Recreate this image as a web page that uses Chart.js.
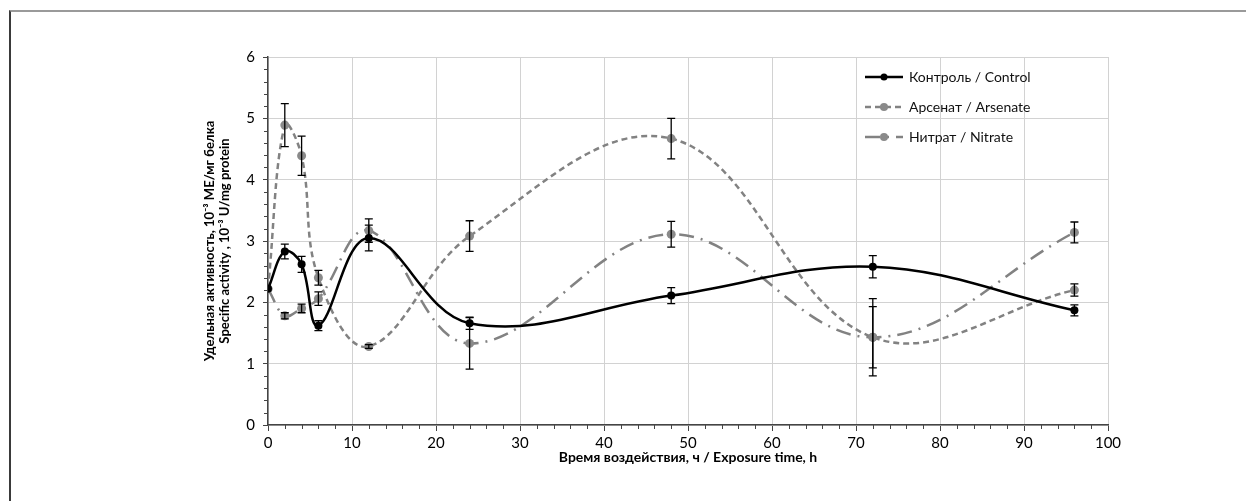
<!DOCTYPE html>
<html>
<head>
<meta charset="utf-8">
<script src="https://cdn.jsdelivr.net/npm/chart.js@4.4.1/dist/chart.umd.min.js"></script>
<style>
html, body { margin: 0; padding: 0; background: #fff; }
#wrap { position: relative; width: 1246px; height: 501px; overflow: hidden; }
#frame { position: absolute; left: 9px; top: 10px; right: -4px; bottom: -4px;
  border-top: 2px solid #9a9a9a; border-left: 2px solid #3a3a3a; }
canvas { position: absolute; left: 0; top: 0; }
</style>
</head>
<body>
<div id="wrap"><div id="frame"></div><canvas id="chart" width="1246" height="501"></canvas></div>
<script>
// hours of exposure
const hours = [0, 2, 4, 6, 12, 24, 48, 72, 96];

// specific activity, 10^-3 U/mg protein
const control     = [2.22, 2.83, 2.62, 1.62, 3.05, 1.66, 2.11, 2.58, 1.87];
const controlErr  = [0, 0.12, 0.13, 0.08, 0.21, 0.10, 0.13, 0.18, 0.09];
const arsenate    = [2.22, 4.89, 4.39, 2.40, 1.28, 3.08, 4.67, 1.43, 2.20];
const arsenateErr = [0, 0.35, 0.32, 0.12, 0.03, 0.25, 0.33, 0.63, 0.10];
const nitrate     = [2.22, 1.78, 1.90, 2.06, 3.17, 1.33, 3.11, 1.43, 3.14];
const nitrateErr  = [0, 0.05, 0.07, 0.11, 0.19, 0.42, 0.21, 0.50, 0.17];

const seriesLabels = ['Контроль / Control', 'Арсенат / Arsenate', 'Нитрат / Nitrate'];
const xTitle = 'Время воздействия, ч / Exposure time, h';
const yTitle = ['Удельная активность, 10⁻³ МЕ/мг белка', 'Specific activity , 10⁻³ U/mg protein'];

const FONT = "Lato, 'Liberation Sans', Arial, sans-serif";
const GRAY = '#828282';

const toPoints = (vals) => vals.map((v, i) => ({x: hours[i], y: v}));

const errorBars = {
    id: 'errorBars',
    afterDatasetsDraw(chart) {
        const {ctx, scales: {x, y}} = chart;
        ctx.save();
        ctx.strokeStyle = '#000';
        ctx.lineWidth = 1.3;
        ctx.setLineDash([]);
        chart.data.datasets.forEach(ds => {
            ds.errors.forEach((e, i) => {
                if (!e) return;
                const px = x.getPixelForValue(ds.data[i].x);
                const top = y.getPixelForValue(ds.data[i].y + e);
                const bot = y.getPixelForValue(ds.data[i].y - e);
                ctx.beginPath();
                ctx.moveTo(px, top); ctx.lineTo(px, bot);
                ctx.moveTo(px - 4, top); ctx.lineTo(px + 4, top);
                ctx.moveTo(px - 4, bot); ctx.lineTo(px + 4, bot);
                ctx.stroke();
            });
        });
        ctx.restore();
    }
};

const minorTicks = {
    id: 'minorTicks',
    afterDraw(chart) {
        const {ctx, scales: {x, y}, chartArea} = chart;
        ctx.save();
        ctx.strokeStyle = '#444';
        ctx.lineWidth = 1;
        ctx.beginPath();
        for (let v = 0; v <= 100.001; v += 2) {
            if (v % 10 === 0) continue;
            const px = Math.round(x.getPixelForValue(v)) + 0.5;
            ctx.moveTo(px, chartArea.bottom);
            ctx.lineTo(px, chartArea.bottom + 4);
        }
        for (let k = 0; k <= 30; k++) {
            if (k % 5 === 0) continue;
            const py = Math.round(y.getPixelForValue(k / 5)) + 0.5;
            ctx.moveTo(chartArea.left, py);
            ctx.lineTo(chartArea.left - 4, py);
        }
        ctx.stroke();
        ctx.restore();
    }
};

const legendBox = {
    id: 'legendBox',
    afterDraw(chart) {
        const {ctx, chartArea} = chart;
        const x0 = chartArea.right - 243;
        ctx.save();
        ctx.font = '14px ' + FONT;
        ctx.textBaseline = 'middle';
        chart.data.datasets.forEach((ds, i) => {
            const yy = chartArea.top + 20 + i * 30;
            ctx.strokeStyle = ds.borderColor;
            ctx.lineWidth = ds.borderWidth;
            ctx.setLineDash(ds.borderDash || []);
            ctx.beginPath();
            ctx.moveTo(x0, yy);
            ctx.lineTo(x0 + 38, yy);
            ctx.stroke();
            ctx.setLineDash([]);
            ctx.fillStyle = ds.pointBackgroundColor;
            ctx.beginPath();
            ctx.arc(x0 + 19, yy, ds.pointRadius - 0.5, 0, Math.PI * 2);
            ctx.fill();
            ctx.fillStyle = '#111';
            ctx.fillText(ds.label, x0 + 44, yy);
        });
        ctx.restore();
    }
};

new Chart(document.getElementById('chart').getContext('2d'), {
    type: 'scatter',
    data: {
        datasets: [
            {
                label: seriesLabels[0], data: toPoints(control), errors: controlErr,
                showLine: true, tension: 0.38, borderColor: '#000', borderWidth: 2.5,
                pointRadius: 4, pointBackgroundColor: '#000', pointBorderWidth: 0
            },
            {
                label: seriesLabels[1], data: toPoints(arsenate), errors: arsenateErr,
                showLine: true, tension: 0.38, borderColor: GRAY, borderWidth: 2.5,
                borderDash: [6, 4],
                pointRadius: 4.5, pointBackgroundColor: '#8a8a8a', pointBorderWidth: 0
            },
            {
                label: seriesLabels[2], data: toPoints(nitrate), errors: nitrateErr,
                showLine: true, tension: 0.38, borderColor: GRAY, borderWidth: 2.5,
                borderDash: [15, 7, 2, 7],
                pointRadius: 4.5, pointBackgroundColor: '#8a8a8a', pointBorderWidth: 0
            }
        ]
    },
    options: {
        responsive: false,
        animation: false,
        devicePixelRatio: 1,
        layout: {padding: {left: 203, top: 57, right: 138, bottom: 31}},
        plugins: {legend: {display: false}, tooltip: {enabled: false}},
        scales: {
            x: {
                type: 'linear', min: 0, max: 100,
                ticks: {stepSize: 10, color: '#000', font: {size: 15, family: FONT}, padding: 3},
                grid: {color: '#d2d2d2', tickColor: '#444', tickLength: 6},
                border: {color: '#444', width: 1.5},
                title: {display: true, text: xTitle, color: '#000',
                        font: {size: 14, weight: 'bold', family: FONT}, padding: {top: 2}},
                afterFit(scale) { scale.height = 45; }
            },
            y: {
                min: 0, max: 6,
                ticks: {stepSize: 1, color: '#000', font: {size: 15, family: FONT}, padding: 8},
                grid: {color: '#d2d2d2', tickColor: '#444', tickLength: 5},
                border: {color: '#444', width: 1.5},
                title: {display: true, text: yTitle, color: '#000',
                        font: {size: 13, weight: 'bold', family: FONT, lineHeight: 1.1}, padding: 0},
                afterFit(scale) { scale.width = 65; }
            }
        }
    },
    plugins: [errorBars, minorTicks, legendBox]
});
</script>
</body>
</html>
